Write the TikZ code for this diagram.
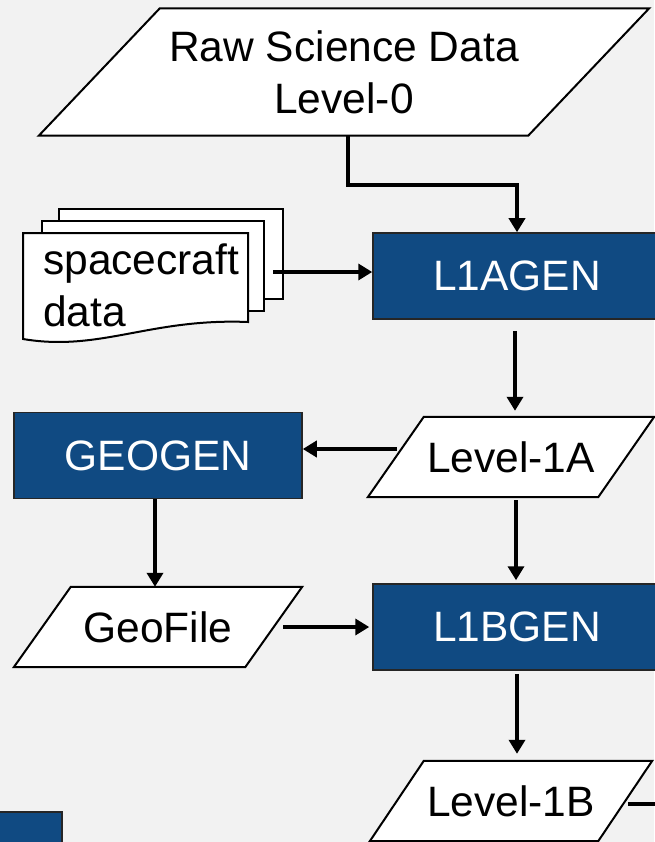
\documentclass[tikz,border=0pt]{standalone}
\usepackage{fontspec}
\setmainfont{Liberation Sans}
\usetikzlibrary{arrows.meta}
\definecolor{pagebg}{RGB}{242,242,242}
\definecolor{procblue}{RGB}{16,74,130}
\pgfdeclarelayer{backdrop}
\pgfdeclarelayer{shapes}
\pgfsetlayers{backdrop,shapes,main}
% parallelogram (data symbol) drawn behind a node: #1 node name, #2 slant
\newcommand\dataslant[2]{%
  \begin{pgfonlayer}{shapes}
    \draw[datafill] ([xshift=#2]#1.north west) -- (#1.north east)
      -- ([xshift=-#2]#1.south east) -- (#1.south west) -- cycle;
  \end{pgfonlayer}}
\begin{document}
\begin{tikzpicture}[x=1pt,y=-1pt,
  lbl/.style={font=\fontsize{42.5}{52}\selectfont, inner sep=0pt},
  proc/.style={lbl, rectangle, fill=procblue, draw=black!85, line width=1.5pt,
    text=white, minimum width=288pt, minimum height=86pt},
  databox/.style={lbl, rectangle, align=center},
  datafill/.style={fill=white, draw=black, line width=2pt, line join=miter},
  docpage/.style={fill=white, draw=black, line width=2pt},
  arr/.style={line width=4.2pt, -{Triangle[length=14pt,width=16pt]}},
  link/.style={line width=4.2pt}]

\useasboundingbox (0,0) rectangle (654,842);
\begin{pgfonlayer}{backdrop}
  \fill[pagebg] (0,0) rectangle (654,842);
\end{pgfonlayer}

% raw input
\node[databox, minimum width=610pt, minimum height=127pt] (raw) at (344,72)
  {Raw Science Data\\Level-0};
\dataslant{raw}{121pt}

% spacecraft data: stack of documents
\begin{pgfonlayer}{shapes}
  \draw[docpage] (59,209) rectangle (283,299);
  \draw[docpage] (42,221) rectangle (264,311);
  \draw[docpage] (23,233) -- (248,233) -- (248,322)
    .. controls (150,318) and (100,352) .. (23,339) -- cycle;
\end{pgfonlayer}
\node[lbl, align=left, anchor=west] (scdata) at (43,285.5) {spacecraft\\data};
\coordinate (scout) at (273,272);

% processing steps and products
\node[proc] (l1agen) at (517,276) {L1AGEN};
\node[databox, minimum width=286pt, minimum height=80pt] (l1a) at (511,457) {Level-1A};
\dataslant{l1a}{56pt}
\node[proc] (geogen) at (158,455.5) {GEOGEN};
\node[databox, minimum width=288pt, minimum height=80pt] (geofile) at (158,627) {GeoFile};
\dataslant{geofile}{57pt}
\node[proc] (l1bgen) at (517,627) {L1BGEN};
\node[databox, minimum width=282pt, minimum height=80pt] (l1b) at (511,801) {Level-1B};
\dataslant{l1b}{54pt}
\node[proc] (nextproc) at (-82,855) {};

% connectors
\draw[arr] ([xshift=4pt]raw.south) -- ++(0,49) -| (l1agen.north);
\draw[arr] (scout) -- (scout -| l1agen.west);
\draw[arr, shorten <=11pt, shorten >=6pt] ([xshift=-2pt]l1agen.south) -- ([xshift=-2pt]l1agen.south |- l1a.north);
\coordinate (l1aout) at ([shift={(29,-8)}]l1a.west);
\draw[arr] (l1aout) -- (l1aout -| geogen.east);
\draw[arr] ([xshift=-3pt]geogen.south) -- ([xshift=-3pt]geogen.south |- geofile.north);
\draw[arr, shorten >=3pt] ([xshift=-19pt]geofile.east) -- (l1bgen.west);
\draw[arr, shorten <=3pt, shorten >=3pt] ([xshift=5pt]l1a.south) -- ([xshift=5pt]l1a.south |- l1bgen.north);
\draw[arr, shorten <=3pt, shorten >=7pt] (l1bgen.south) -- (l1bgen.south |- l1b.north);
\coordinate (l1bout) at ([shift={(-24,3)}]l1b.east);
\draw[link] (l1bout) -- ++(40,0);
\end{tikzpicture}
\end{document}
